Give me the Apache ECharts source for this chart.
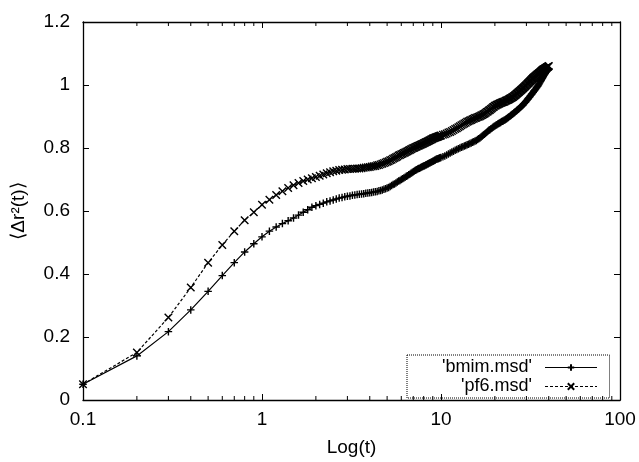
<!DOCTYPE html>
<html>
<head>
<meta charset="utf-8">
<script src="https://cdn.jsdelivr.net/npm/echarts@6/dist/echarts.min.js"></script>
<style>html,body{margin:0;padding:0;background:#fff}#c{width:639px;height:462px}</style>
</head>
<body>
<div id="c"></div>
<script>
// time values (t) at which each series is sampled
const tValues = [
  0.1,0.2,0.3,0.4,0.5,0.6,0.7,0.8,0.9,1.0,1.1,1.2,1.3,1.4,1.5,1.6,1.7,1.8,1.9,2.0,
  2.1,2.2,2.3,2.4,2.5,2.6,2.7,2.8,2.9,3.0,3.1,3.2,3.3,3.4,3.5,3.6,3.7,3.8,3.9,4.0,
  4.1,4.2,4.3,4.4,4.5,4.6,4.7,4.8,4.9,5.0,
  5.1,5.2,5.3,5.4,5.5,5.6,5.7,5.8,5.9,6.0,6.1,6.2,6.3,6.4,6.5,6.6,6.7,6.8,6.9,7.0,
  7.1,7.2,7.3,7.4,7.5,7.6,7.7,7.8,7.9,8.0,8.1,8.2,8.3,8.4,8.5,8.6,8.7,8.8,8.9,9.0,
  9.1,9.2,9.3,9.4,9.5,9.6,9.7,9.8,9.9,10.0,
  10.25,10.5,10.75,11,11.25,11.5,11.75,12,12.25,12.5,12.75,13,13.25,13.5,13.75,14,14.25,14.5,14.75,15,
  15.25,15.5,15.75,16,16.25,16.5,16.75,17,17.25,17.5,17.75,18,18.25,18.5,18.75,19,19.25,19.5,19.75,20,
  20.25,20.5,20.75,21,21.25,21.5,21.75,22,22.25,22.5,22.75,23,23.25,23.5,23.75,24,24.25,24.5,24.75,25,
  25.25,25.5,25.75,26,26.25,26.5,26.75,27,27.25,27.5,27.75,28,28.25,28.5,28.75,29,29.25,29.5,29.75,30,
  30.25,30.5,30.75,31,31.25,31.5,31.75,32,32.25,32.5,32.75,33,33.25,33.5,33.75,34,34.25,34.5,34.75,35,
  35.25,35.5,35.75,36,36.25,36.5,36.75,37,37.25,37.5,37.75,38,38.25,38.5,38.75,39,39.25,39.5,39.75,40
];
// 'bmim.msd' (solid line, + markers)
const bmimValues = [
  0.050,0.140,0.217,0.286,0.345,0.395,0.436,0.470,0.496,0.518,0.536,0.549,0.560,0.569,0.578,0.587,0.596,0.604,0.612,0.617,
  0.621,0.625,0.629,0.632,0.635,0.638,0.641,0.643,0.645,0.647,0.648,0.650,0.651,0.652,0.653,0.654,0.655,0.656,0.657,0.658,
  0.659,0.660,0.661,0.662,0.664,0.665,0.667,0.669,0.671,0.673,
  0.675,0.678,0.681,0.684,0.686,0.689,0.692,0.695,0.697,0.700,0.702,0.705,0.707,0.710,0.712,0.715,0.717,0.720,0.722,0.725,
  0.727,0.729,0.731,0.733,0.735,0.736,0.738,0.740,0.741,0.743,0.744,0.746,0.747,0.749,0.750,0.752,0.753,0.755,0.756,0.758,
  0.759,0.761,0.762,0.764,0.765,0.766,0.767,0.768,0.769,0.770,
  0.772,0.775,0.778,0.781,0.784,0.787,0.790,0.793,0.795,0.798,0.800,0.802,0.804,0.806,0.808,0.810,0.812,0.814,0.816,0.818,
  0.820,0.822,0.824,0.827,0.829,0.832,0.835,0.838,0.841,0.844,0.847,0.850,0.853,0.856,0.858,0.861,0.863,0.866,0.868,0.870,
  0.872,0.874,0.876,0.878,0.879,0.881,0.883,0.885,0.886,0.888,0.889,0.891,0.893,0.895,0.897,0.899,0.901,0.903,0.905,0.907,
  0.909,0.911,0.913,0.915,0.917,0.919,0.921,0.923,0.925,0.927,0.929,0.931,0.933,0.935,0.937,0.940,0.942,0.945,0.947,0.950,
  0.952,0.955,0.957,0.960,0.962,0.965,0.967,0.970,0.972,0.975,0.977,0.980,0.982,0.985,0.987,0.990,0.992,0.995,0.997,1.000,
  1.003,1.006,1.009,1.012,1.015,1.018,1.021,1.024,1.027,1.030,1.032,1.035,1.037,1.040,1.042,1.044,1.046,1.048,1.050,1.052
];
// 'pf6.msd' (dashed line, x markers)
const pf6Values = [
  0.050,0.151,0.262,0.357,0.436,0.492,0.536,0.571,0.596,0.620,0.636,0.651,0.663,0.673,0.682,0.689,0.695,0.700,0.704,0.708,
  0.712,0.716,0.720,0.723,0.726,0.728,0.730,0.731,0.732,0.733,0.733,0.734,0.734,0.735,0.735,0.736,0.737,0.738,0.739,0.740,
  0.741,0.742,0.743,0.745,0.746,0.748,0.750,0.752,0.754,0.756,
  0.758,0.761,0.763,0.766,0.768,0.771,0.773,0.776,0.778,0.780,0.782,0.784,0.786,0.788,0.790,0.792,0.794,0.796,0.798,0.800,
  0.801,0.803,0.804,0.806,0.807,0.809,0.810,0.812,0.813,0.815,0.816,0.818,0.819,0.821,0.822,0.824,0.825,0.827,0.828,0.830,
  0.831,0.832,0.833,0.834,0.835,0.836,0.837,0.838,0.839,0.840,
  0.842,0.844,0.846,0.849,0.851,0.854,0.857,0.860,0.863,0.866,0.869,0.872,0.875,0.878,0.880,0.883,0.885,0.887,0.889,0.891,
  0.893,0.895,0.896,0.898,0.899,0.901,0.903,0.905,0.907,0.909,0.911,0.914,0.916,0.919,0.921,0.924,0.926,0.929,0.931,0.934,
  0.935,0.937,0.938,0.940,0.941,0.943,0.944,0.945,0.946,0.947,0.948,0.950,0.951,0.952,0.953,0.955,0.956,0.958,0.959,0.961,
  0.962,0.964,0.966,0.968,0.970,0.972,0.974,0.976,0.978,0.980,0.982,0.984,0.986,0.988,0.990,0.992,0.994,0.996,0.998,1.000,
  1.002,1.004,1.006,1.008,1.010,1.012,1.014,1.016,1.018,1.020,1.022,1.024,1.025,1.027,1.028,1.030,1.031,1.033,1.034,1.036,
  1.037,1.039,1.040,1.042,1.043,1.045,1.046,1.048,1.049,1.050,1.051,1.052,1.053,1.054,1.055,1.056,1.057,1.058,1.059,1.060
];
const seriesNames = ["'bmim.msd'", "'pf6.msd'"];
const xMinorTicks = [0.2,0.3,0.4,0.5,0.6,0.7,0.8,0.9,2,3,4,5,6,7,8,9,20,30,40,50,60,70,80,90];
const xTickLabels = {0.1:'0.1', 1:'1', 10:'10', 100:'100'};
const yMin = 0, yMax = 1.2, yStep = 0.2;
const xTitle = 'Log(t)';
const yTitle = '\u27E8\u0394r\u00B2(t)\u27E9';

const FONT = '"Liberation Sans", Arial, Helvetica, sans-serif';
const plusPath = 'path://M5,0L5,10M0,5L10,5';
const crossPath = 'path://M0,0L10,10M0,10L10,0';

const zip = (xs, ys) => xs.map((x, i) => [x, ys[i]]);

const chart = echarts.init(document.getElementById('c'), null, {renderer: 'canvas'});
const axisLine = {show: true, onZero: false, lineStyle: {color: '#000', width: 1.3}};
chart.setOption({
  animation: false,
  backgroundColor: '#fff',
  textStyle: {fontFamily: FONT, color: '#000'},
  grid: {left: 83, right: 19, top: 22, bottom: 61},
  legend: {
    orient: 'vertical',
    left: 407, top: 355,
    align: 'right',
    padding: [3, 12, 2, 25],
    itemGap: 0,
    itemWidth: 52, itemHeight: 8,
    borderColor: '#000', borderWidth: 1, borderType: 'dotted',
    lineStyle: {width: 1},
    textStyle: {fontFamily: FONT, fontSize: 18, color: '#000', width: 100, align: 'right', padding: [0, 8, 0, 0], lineHeight: 19},
    data: seriesNames
  },
  xAxis: [
    {type: 'log', logBase: 10, min: 0.1, max: 100, position: 'bottom',
     name: xTitle, nameLocation: 'middle', nameGap: 38,
     nameTextStyle: {fontFamily: FONT, fontSize: 19, color: '#000'},
     axisLine: axisLine,
     axisTick: {show: true, inside: true, length: 6, lineStyle: {color: '#000', width: 1}},
     axisLabel: {show: true, margin: 10, fontFamily: FONT, fontSize: 19, color: '#000',
                 formatter: v => xTickLabels[v] !== undefined ? xTickLabels[v] : String(v)},
     splitLine: {show: false}},
    {type: 'log', logBase: 10, min: 0.1, max: 100, position: 'top',
     axisLine: axisLine,
     axisTick: {show: true, inside: true, length: 6, lineStyle: {color: '#000', width: 1}},
     axisLabel: {show: false}, splitLine: {show: false}}
  ],
  yAxis: [
    {type: 'value', min: yMin, max: yMax, interval: yStep, position: 'left',
     name: yTitle, nameLocation: 'middle', nameGap: 55,
     nameTextStyle: {fontFamily: FONT, fontSize: 19, color: '#000'},
     axisLine: axisLine,
     axisTick: {show: true, inside: true, length: 6, lineStyle: {color: '#000', width: 1}},
     axisLabel: {show: true, margin: 13, fontFamily: FONT, fontSize: 19, color: '#000',
                 formatter: v => String(Math.round(v * 10) / 10)},
     splitLine: {show: false}},
    {type: 'value', min: yMin, max: yMax, interval: yStep, position: 'right',
     axisLine: axisLine,
     axisTick: {show: true, inside: true, length: 6, lineStyle: {color: '#000', width: 1}},
     axisLabel: {show: false}, splitLine: {show: false}}
  ],
  series: [
    {
      name: seriesNames[0], type: 'line', xAxisIndex: 0, yAxisIndex: 0,
      data: zip(tValues, bmimValues),
      symbol: plusPath, symbolSize: 7.5, showSymbol: true,
      lineStyle: {color: '#000', width: 1.2, type: 'solid'},
      itemStyle: {color: '#000', borderColor: '#000', borderWidth: 1.4},
      z: 3
    },
    {
      name: seriesNames[1], type: 'line', xAxisIndex: 0, yAxisIndex: 0,
      data: zip(tValues, pf6Values),
      symbol: crossPath, symbolSize: 7.5, showSymbol: true,
      lineStyle: {color: '#000', width: 1.2, type: [3, 2]},
      itemStyle: {color: '#000', borderColor: '#000', borderWidth: 1.4},
      z: 3
    },
    {
      name: 'minorTicks', type: 'custom', xAxisIndex: 0, yAxisIndex: 0, silent: true,
      data: xMinorTicks.map(v => [v, 0]),
      renderItem: function (params, api) {
        const p = api.coord([api.value(0), 0]);
        const cs = params.coordSys;
        const yb = cs.y + cs.height, yt = cs.y;
        return {type: 'group', children: [
          {type: 'line', shape: {x1: p[0], y1: yb, x2: p[0], y2: yb - 4}, style: {stroke: '#000', lineWidth: 1}},
          {type: 'line', shape: {x1: p[0], y1: yt, x2: p[0], y2: yt + 4}, style: {stroke: '#000', lineWidth: 1}}
        ]};
      },
      z: 2
    }
  ]
});
</script>
</body>
</html>
